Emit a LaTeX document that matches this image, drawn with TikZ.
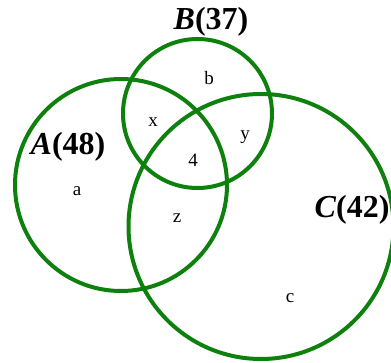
\documentclass[tikz,border=0pt]{standalone}
\usepackage{fontspec}
\setmainfont{Liberation Serif}
\usepackage{tikz}
\usetikzlibrary{positioning}
\definecolor{setgreen}{RGB}{14,128,14}
\tikzset{
  setcircle/.style={circle, draw=setgreen, line width=4pt, inner sep=0pt},
  setlabel/.style={font=\fontsize{32}{36}\selectfont\bfseries, inner sep=0pt},
  region/.style={font=\fontsize{19}{21}\selectfont, inner sep=0pt}
}
\begin{document}
\begin{tikzpicture}[x=1pt, y=-1pt]
  \useasboundingbox (0,0) rectangle (391,363);

  % Circles
  \node[setcircle, minimum size=212pt] (setA) at (121,185) {};
  \node[setcircle, minimum size=149pt] (setB) at (197.5,113.5) {};
  \node[setcircle, minimum size=265pt] (setC) at (261,226.5) {};

  % Set labels
  \node[setlabel] (labA) at (68,147) {\textit{A}(48)};
  \node[setlabel] (labB) at (211,22) {\textit{B}(37)};
  \node[setlabel] (labC) at (352,210) {\textit{C}(42)};

  % Regions
  \node[region] (ra) at (77,191) {a};
  \node[region] (rb) at (209,78) {b};
  \node[region] (rc) at (290,298) {c};
  \node[region] (rx) at (153,122) {x};
  \node[region] (ry) at (245,137) {y};
  \node[region] (rz) at (177,218) {z};
  \node[region] (rabc) at (193,160) {4};

\end{tikzpicture}
\end{document}
